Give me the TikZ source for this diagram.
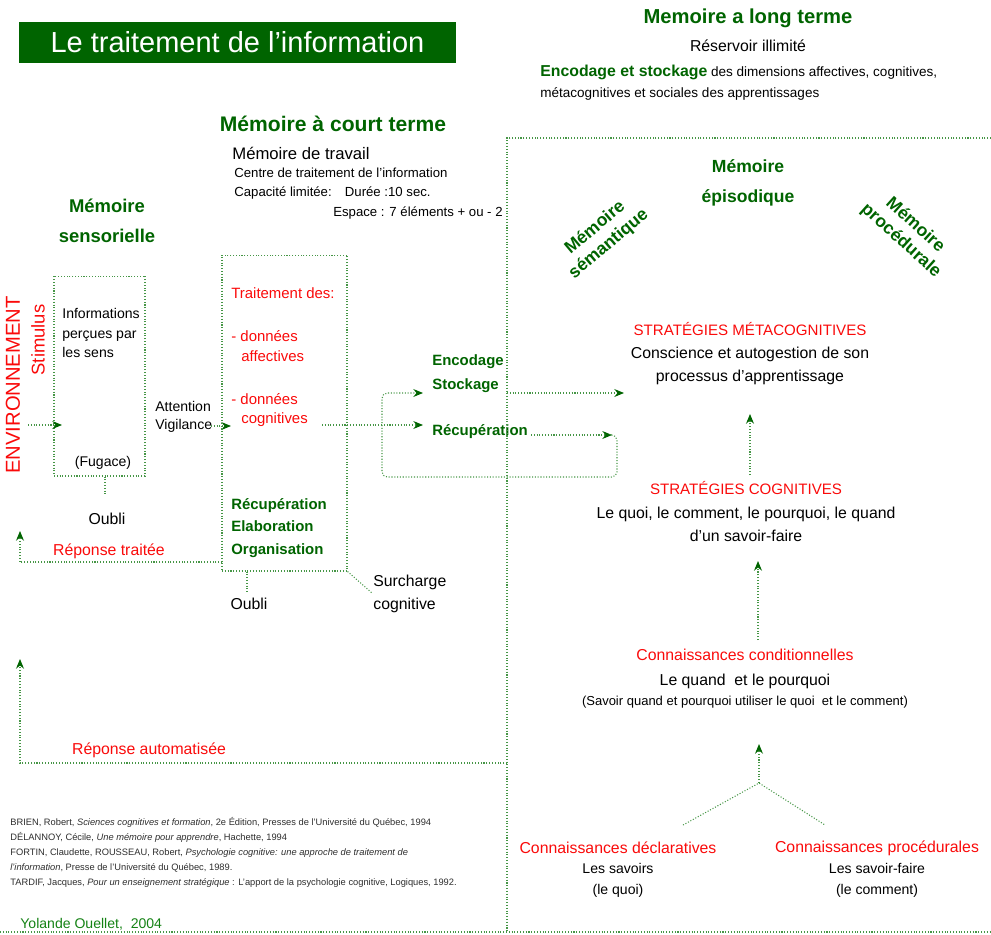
\documentclass[tikz,border=0pt]{standalone}
\usepackage{fontspec}
\setmainfont{Liberation Sans}
\usetikzlibrary{arrows,arrows.meta,positioning,calc}

\definecolor{vertfonce}{RGB}{0,100,0}
\definecolor{vertsign}{RGB}{20,130,20}
\definecolor{rougevif}{RGB}{250,10,10}
\definecolor{pointille}{RGB}{70,150,70}
\definecolor{gristexte}{RGB}{45,45,45}

\tikzset{
  texte/.style={inner sep=0pt, align=center, font=\fontsize{9}{13}\selectfont},
  rouge/.style={texte, text=rougevif},
  vert/.style={inner sep=0pt, align=center, text=vertfonce, font=\bfseries\fontsize{10}{17}\selectfont},
  penche/.style={vert, font=\bfseries\fontsize{10}{12}\selectfont},
  lien/.style={densely dotted, draw=pointille, line width=0.6pt},
  fleche/.style={lien, ->},
  cadre/.style={lien, rectangle, inner sep=0pt},
  bandeau/.style={fill=vertfonce, text=white, inner sep=0pt, minimum width=8.74cm,
    minimum height=0.82cm, font=\fontsize{16.5}{18}\selectfont}
}

\begin{document}
\begin{tikzpicture}[x=0.02cm, y=-0.02cm, >={Stealth[length=5.5pt,width=4.5pt,color=vertfonce]}]
        \useasboundingbox (0,0) rectangle (991,934);

        % Titre
        \node[bandeau] (titre) at (237.5,42.5) {Le traitement de l'information};

        % Memoire a long terme (en-tete)
        \node[vert, font=\bfseries\fontsize{11.5}{14}\selectfont] (mlt) at (748,18) {Memoire a long terme};
        \node[texte] (reserv) at (748,46) {Réservoir illimité};
        \node[texte, anchor=west, align=left, font=\fontsize{7.7}{12}\selectfont] (encst) at (540,82.5)
          {{\color{vertfonce}\bfseries\fontsize{9}{12}\selectfont Encodage et stockage} des dimensions affectives, cognitives,\\
           métacognitives et sociales des apprentissages};

        % Memoire a court terme (en-tete)
        \node[vert, font=\bfseries\fontsize{12}{14}\selectfont] (mct) at (333,124) {Mémoire à court terme};
        \node[texte, anchor=west, font=\fontsize{9.5}{12}\selectfont] (travail) at (232,153) {Mémoire de travail};
        \node[texte, anchor=west, font=\fontsize{7.5}{9}\selectfont] (centre) at (234,173) {Centre de traitement de l'information};
        \node[texte, anchor=west, font=\fontsize{7.5}{9}\selectfont] (capa) at (234,193) {Capacité limitée:\quad Durée :10 sec.};
        \node[texte, anchor=east, font=\fontsize{7.5}{9}\selectfont] (espace) at (503,213) {Espace : 7 éléments + ou - 2};

        % Memoire sensorielle
        \node[vert, font=\bfseries\fontsize{10.5}{17}\selectfont] (msens) at (107,221) {Mémoire\\sensorielle};
        \node[cadre, draw, minimum width=1.82cm, minimum height=4cm] (boite1) at (99.5,376) {};
        \node[texte, anchor=west, align=left, font=\fontsize{8}{11.3}\selectfont] (infos) at (62,333) {Informations\\perçues par\\les sens};
        \node[texte, font=\fontsize{8}{10}\selectfont] (fugace) at (103,463) {(Fugace)};

        % Environnement
        \node[rouge, rotate=90, font=\fontsize{11.5}{13}\selectfont] (env) at (13,385) {ENVIRONNEMENT};
        \node[rouge, rotate=90, font=\fontsize{10.5}{12}\selectfont] (stim) at (38,340) {Stimulus};
        \coordinate (e1) at (28,425);
        \coordinate (e2) at (62,425);
        \draw[fleche] (e1) -- (e2);

        % Attention
        \node[texte, anchor=west, align=left, font=\fontsize{8}{10}\selectfont] (attv) at (155,417) {Attention\\Vigilance};
        \coordinate (a1) at (211,426);
        \coordinate (a2) at (231,426);
        \draw[fleche] (a1) -- (a2);

        % Memoire de travail (boite)
        \node[cadre, draw, minimum width=2.5cm, minimum height=6.32cm] (boite2) at (284.5,413) {};
        \node[rouge, anchor=west, font=\fontsize{8.5}{10}\selectfont] (trait) at (231,293) {Traitement des:};
        \node[rouge, anchor=west, font=\fontsize{8.5}{10}\selectfont] (don1) at (231,336) {- données};
        \node[rouge, anchor=west, font=\fontsize{8.5}{10}\selectfont] (affec) at (241,356) {affectives};
        \node[rouge, anchor=west, font=\fontsize{8.5}{10}\selectfont] (don2) at (231,399) {- données};
        \node[rouge, anchor=west, font=\fontsize{8.5}{10}\selectfont] (cogn) at (241,420) {cognitives};
        \node[vert, anchor=west, align=left, font=\bfseries\fontsize{8.5}{13}\selectfont] (reo) at (231,528)
          {Récupération\\Elaboration\\Organisation};

        % Encodage / recuperation
        \node[vert, anchor=west, align=left, font=\bfseries\fontsize{8.5}{14}\selectfont] (encstock) at (432,373.5) {Encodage\\Stockage};
        \node[vert, anchor=west, font=\bfseries\fontsize{8.5}{10}\selectfont] (recup) at (432,432) {Récupération};
        \coordinate (d1) at (322,425);
        \coordinate (d2) at (423,425);
        \draw[fleche] (d1) -- (d2);
        \coordinate (r1) at (531,435);
        \coordinate (r2) at (612,435);
        \draw[fleche] (r1) -- (r2);
        \coordinate (s0) at (423,393);
        \draw[fleche, rounded corners=3pt] (r2) -- (617,435) -- (617,477) -- (382,477) -- (382,393) -- (s0);
        \coordinate (s1) at (507,393);
        \coordinate (s2) at (624,393);
        \draw[fleche] (s1) -- (s2);

        % Cadre memoire a long terme
        \coordinate (hg) at (507,138);
        \coordinate (hd) at (991,138);
        \coordinate (bg) at (0,932);
        \coordinate (bd) at (991,932);
        \draw[lien] (hd) -- (hg) -- (507,932);
        \draw[lien] (bg) -- (bd);

        % Reponses
        \coordinate (ra1) at (507,763);
        \coordinate (ra2) at (20,659);
        \draw[fleche] (ra1) -- (20,763) -- (ra2);
        \node[rouge, font=\fontsize{9}{11}\selectfont] (repauto) at (149,750) {Réponse automatisée};
        \coordinate (rt1) at (222,562);
        \coordinate (rt2) at (20,531);
        \draw[fleche] (rt1) -- (20,562) -- (rt2);
        \node[rouge, font=\fontsize{9}{11}\selectfont] (reptrait) at (109,551) {Réponse traitée};

        % Oubli
        \node[texte] (oubli1) at (107,519) {Oubli};
        \draw[lien] (boite1.south -| 105,0) -- (105,496);
        \node[texte] (oubli2) at (249,604) {Oubli};
        \draw[lien] (boite2.south -| 247,0) -- (247,592);
        \node[texte, anchor=west, align=left, font=\fontsize{9}{13.5}\selectfont] (surch) at (373,594) {Surcharge\\cognitive};
        \draw[lien] (boite2.south east) -- (372,593);

        % Memoires a long terme
        \node[vert] (mepi) at (748,183) {Mémoire\\épisodique};
        \node[penche, rotate=40] (msem) at (602,236) {Mémoire\\sémantique};
        \node[penche, rotate=-42] (mproc) at (908,233) {Mémoire\\procédurale};

        % Strategies
        \node[rouge, font=\fontsize{8.6}{10}\selectfont] (smeta) at (750,329) {STRATÉGIES MÉTACOGNITIVES};
        \node[texte] (conscience) at (750,365.5) {Conscience et autogestion de son\\processus d'apprentissage};
        \node[rouge, font=\fontsize{8.6}{10}\selectfont] (scogn) at (746,488) {STRATÉGIES COGNITIVES};
        \node[texte] (quoi) at (746,524.5) {Le quoi, le comment, le pourquoi, le quand\\d'un savoir-faire};
        \coordinate (f1) at (750,475);
        \coordinate (f2) at (750,414);
        \draw[fleche] (f1) -- (f2);
        \coordinate (g1) at (758,640);
        \coordinate (g2) at (758,561);
        \draw[fleche] (g1) -- (g2);

        % Connaissances
        \node[rouge] (ccond) at (745,655) {Connaissances conditionnelles};
        \node[texte] (quand) at (745,681) {Le quand\ \ et le pourquoi};
        \node[texte, font=\fontsize{7.4}{9}\selectfont] (savoir) at (745,702) {(Savoir quand et pourquoi utiliser le quoi\ \ et le comment)};
        \coordinate (jonc) at (759,783);
        \coordinate (h2) at (759,744);
        \draw[fleche] (jonc) -- (h2);
        \coordinate (jg) at (683,825);
        \coordinate (jd) at (825,825);
        \draw[lien] (jg) -- (jonc) -- (jd);
        \node[rouge] (cdecl) at (618,848) {Connaissances déclaratives};
        \node[texte, font=\fontsize{8}{12}\selectfont] (savoirs) at (618,880.5) {Les savoirs\\(le quoi)};
        \node[rouge] (cproc) at (877,848) {Connaissances procédurales};
        \node[texte, font=\fontsize{8}{12}\selectfont] (sfaire) at (877,880.5) {Les savoir-faire\\(le comment)};

        % References
        \node[texte, anchor=west, align=left, text=gristexte, font=\fontsize{5.3}{8.6}\selectfont] (refs) at (10,852.5)
          {BRIEN, Robert,\ \textit{Sciences cognitives et formation}, 2e Édition, Presses de l'Université du Québec, 1994\\
           DÉLANNOY, Cécile, \textit{Une mémoire pour apprendre}, Hachette, 1994\\
           FORTIN, Claudette, ROUSSEAU, Robert, \textit{Psychologie cognitive: une approche de traitement de}\\
           \textit{l'information}, Presse de l'Université du Québec, 1989.\\
           TARDIF, Jacques, \textit{Pour un enseignement stratégique} : L'apport de la psychologie cognitive, Logiques, 1992.};
        \node[texte, anchor=west, text=vertsign, font=\fontsize{8}{10}\selectfont] (sign) at (20,924) {Yolande Ouellet,\ \ 2004};

    \end{tikzpicture}
\end{document}
